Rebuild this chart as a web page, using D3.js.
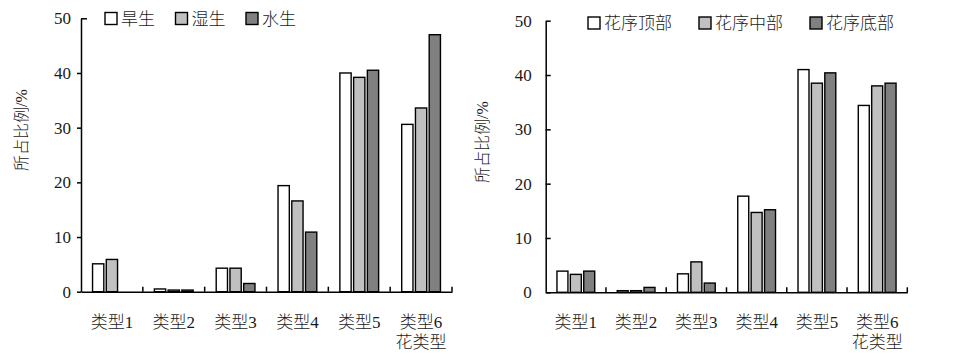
<!DOCTYPE html>
<html>
<head>
<meta charset="utf-8">
<script src="https://cdn.jsdelivr.net/npm/d3@7"></script>
<style>
  body { margin: 0; background: #fff; }
  svg text { font-family: "Liberation Serif", "Noto Sans CJK SC", serif; fill: #1a1a1a; font-weight: 300; }
  .domain, .tick line { stroke: #000; stroke-width: 1.5; }
</style>
</head>
<body>
<svg id="chart" width="963" height="358"></svg>
<script>
const categories = ["类型1", "类型2", "类型3", "类型4", "类型5", "类型6"];
const yTicks = [0, 10, 20, 30, 40, 50];

// left panel: habitat
const habitatSeries = ["旱生", "湿生", "水生"];
const dryValues = [5.1, 0.5, 4.3, 19.4, 40.0, 30.6];
const wetValues = [5.9, 0.3, 4.3, 16.6, 39.2, 33.6];
const waterValues = [0, 0.3, 1.5, 10.9, 40.5, 47.0];

// right panel: inflorescence position
const positionSeries = ["花序顶部", "花序中部", "花序底部"];
const topValues = [3.9, 0.3, 3.4, 17.7, 41.0, 34.4];
const midValues = [3.3, 0.3, 5.6, 14.7, 38.5, 38.0];
const bottomValues = [3.9, 0.9, 1.7, 15.2, 40.4, 38.5];

const yTitle = "所占比例/%";
const xTitle = "花类型";
const fills = ["#ffffff", "#c0c0c0", "#808080"];

const svg = d3.select("#chart");

function drawPanel(cfg) {
    const g = svg.append("g");

    const y = d3.scaleLinear().domain([0, 50]).range([cfg.y0, cfg.y1]);
    const x0 = d3.scaleBand().domain(categories).range([cfg.x0, cfg.x1]);
    const x1 = d3.scaleBand()
        .domain(cfg.series)
        .range([0, x0.bandwidth()])
        .paddingInner(0.18)
        .paddingOuter(0.84);

    const rows = categories.map((c, i) => ({
        cat: c,
        vals: cfg.series.map((s, j) => ({ s: s, v: cfg.values[j][i], k: j }))
    }));

    g.selectAll(".grp")
        .data(rows)
        .enter()
        .append("g")
        .attr("transform", d => `translate(${x0(d.cat)},0)`)
        .selectAll("rect")
        .data(d => d.vals)
        .enter()
        .append("rect")
        .attr("x", d => x1(d.s))
        .attr("y", d => y(d.v))
        .attr("width", x1.bandwidth())
        .attr("height", d => cfg.y0 - y(d.v))
        .attr("fill", d => fills[d.k])
        .attr("stroke", "#000")
        .attr("stroke-width", 1.4);

    // y axis
    const ya = g.append("g")
        .attr("transform", `translate(${cfg.x0},0)`)
        .call(d3.axisLeft(y).tickValues(yTicks).tickSize(cfg.tickLen).tickPadding(cfg.tickPad).tickSizeOuter(0))
        .call(a => a.selectAll("text").style("font-size", "17px"));
    if (cfg.topTickIn) {
        ya.selectAll(".tick line").filter(d => d === 50).attr("x2", 6);
    }

    // x axis with ticks on category boundaries
    g.append("g")
        .attr("transform", `translate(0,${cfg.y0})`)
        .call(d3.axisBottom(x0).tickSize(0).tickSizeOuter(0).tickPadding(24))
        .call(a => a.selectAll("text").style("font-size", "17px"));

    g.selectAll(".bt")
        .data(categories)
        .enter()
        .append("line")
        .attr("x1", d => x0(d) + x0.step())
        .attr("x2", d => x0(d) + x0.step())
        .attr("y1", cfg.y0)
        .attr("y2", cfg.y0 - 5)
        .attr("stroke", "#000")
        .attr("stroke-width", 1.5);

    g.append("text")
        .attr("x", x0(categories[categories.length - 1]) + x0.bandwidth() / 2)
        .attr("y", cfg.y0 + 56)
        .attr("text-anchor", "middle")
        .style("font-size", "17px")
        .text(xTitle);

    g.append("text")
        .attr("transform", `translate(${cfg.labelX},${cfg.labelY}) rotate(-90)`)
        .attr("text-anchor", "middle")
        .style("font-size", "16px")
        .text(yTitle);

    // legend
    const leg = g.selectAll(".leg")
        .data(cfg.series)
        .enter()
        .append("g")
        .attr("transform", (d, i) => `translate(${cfg.legX + i * cfg.legStep},${cfg.legY})`);
    leg.append("rect")
        .attr("x", 0)
        .attr("y", -6)
        .attr("width", 12)
        .attr("height", 12)
        .attr("fill", (d, i) => fills[i])
        .attr("stroke", "#000")
        .attr("stroke-width", 1.4);
    leg.append("text")
        .attr("x", 16)
        .attr("y", 0)
        .attr("dy", "0.36em")
        .style("font-size", "17px")
        .text(d => d);
}

drawPanel({
    series: habitatSeries,
    values: [dryValues, wetValues, waterValues],
    x0: 81, x1: 452, y0: 291.7, y1: 18.3,
    tickLen: 4, tickPad: 6, topTickIn: true,
    labelX: 27, labelY: 130,
    legX: 105, legY: 18.5, legStep: 70.5
});

drawPanel({
    series: positionSeries,
    values: [topValues, midValues, bottomValues],
    x0: 545.7, x1: 907.3, y0: 292.3, y1: 20.7,
    tickLen: -5, tickPad: 14, topTickIn: false,
    labelX: 488, labelY: 142,
    legX: 588, legY: 23, legStep: 111
});
</script>
</body>
</html>
